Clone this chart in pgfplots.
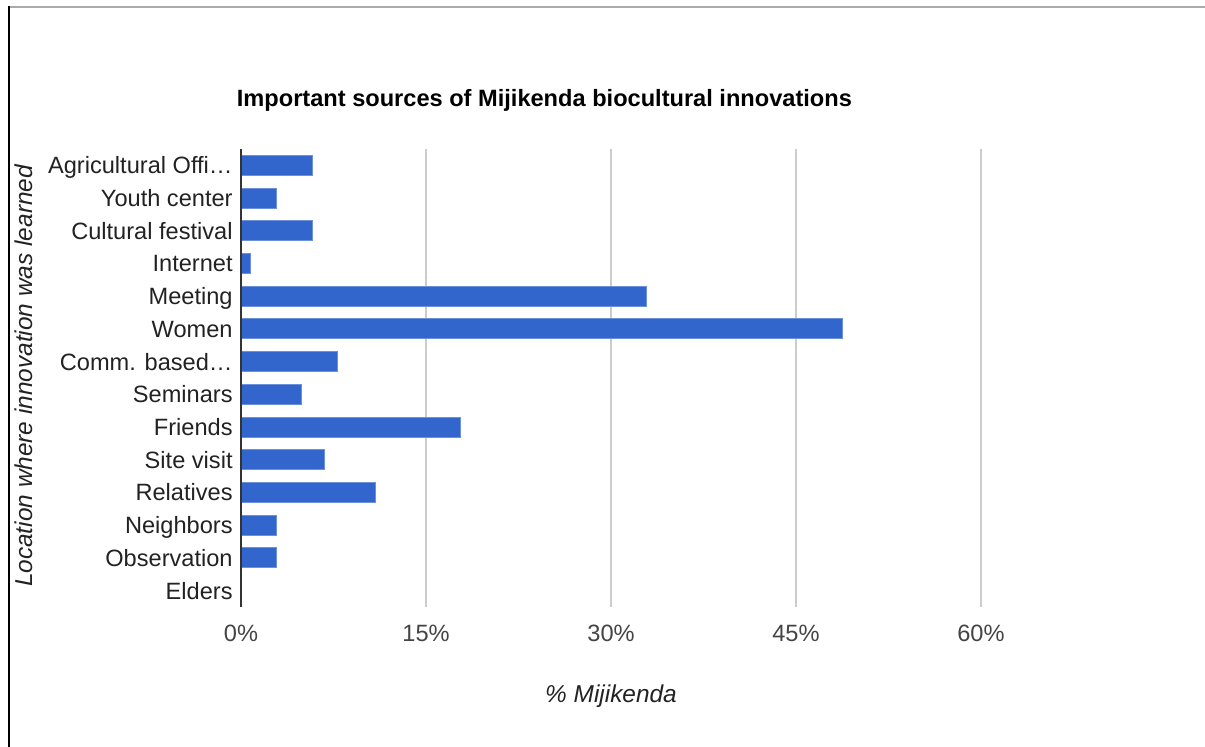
\documentclass[border=0pt]{standalone}
\usepackage{fontspec}
\setmainfont{Liberation Sans}
\usepackage{pgfplots}
\pgfplotsset{compat=1.18}
\definecolor{barblue}{HTML}{3366CC}
\definecolor{baredge}{HTML}{6D90DA}
\definecolor{gridgray}{HTML}{CCCCCC}
\definecolor{ticktext}{HTML}{444444}
\definecolor{labtext}{HTML}{222222}
\definecolor{framegray}{HTML}{AAAAAA}
\begin{document}
\begin{tikzpicture}
\useasboundingbox (0,0) rectangle (602.5pt,-373.5pt);
\begin{scope}[x=0.5pt,y=-0.5pt]
\draw[framegray, line width=0.6pt] (8,7) -- (1205,7);
\draw[black, line width=1.1pt] (9,6.5) -- (9,747);
\node[anchor=base west, inner sep=0pt, font=\fontsize{11.8}{14}\selectfont\bfseries] at (236.5,107) {Important sources of Mijikenda biocultural innovations};
\node[anchor=base, inner sep=0pt, text=labtext, font=\fontsize{12.2}{14}\selectfont\itshape] at (611,703) {\% Mijikenda};
\node[anchor=base, rotate=90, inner sep=0pt, text=labtext, font=\fontsize{12.2}{14}\selectfont\itshape] at (32.5,376) {Location where innovation was learned};
\end{scope}
\begin{axis}[
  at={(120.5pt,-303.5pt)}, anchor=south west,
  scale only axis, width=370pt, height=229pt,
  xbar, bar width=10pt,
  xmin=0, xmax=60, ymin=-0.5, ymax=13.5, y dir=reverse,
  axis line style={draw=none},
  xmajorgrids, grid style={gridgray, line width=0.8pt},
  major tick length=0pt,
  xtick={0,15,30,45,60},
  xticklabels={0\%,15\%,30\%,45\%,60\%},
  ytick={0,...,13},
  yticklabels={Agricultural Offi…,Youth center,Cultural festival,Internet,Meeting,Women,Comm. based…,Seminars,Friends,Site visit,Relatives,Neighbors,Observation,Elders},
  xticklabel style={anchor=base, inner sep=0pt, yshift=-17.2pt, text=ticktext, font=\fontsize{11.8}{14}\selectfont},
  yticklabel style={anchor=base east, inner sep=0pt, xshift=-4pt, yshift=-4.2pt, text=labtext, font=\fontsize{11.8}{14}\selectfont},
  clip=false,
]
\addplot[fill=barblue, draw=baredge, line width=0.5pt] coordinates {
  (5.8,0) (2.9,1) (5.8,2) (0.8,3) (32.9,4) (48.8,5) (7.8,6)
  (4.9,7) (17.8,8) (6.8,9) (10.9,10) (2.9,11) (2.9,12) (0,13)
};
\draw[black!80, line width=0.9pt] (rel axis cs:0,0) -- (rel axis cs:0,1);
\end{axis}
\end{tikzpicture}
\end{document}
